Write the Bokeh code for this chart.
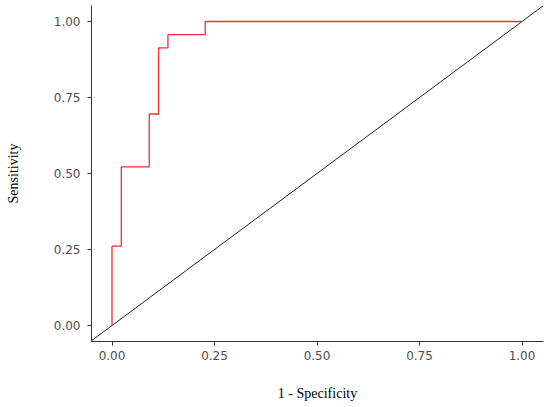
from bokeh.plotting import figure
from bokeh.embed import file_html
from bokeh.resources import INLINE
from bokeh.models import Range1d, FixedTicker

# ROC curve points (1 - specificity, sensitivity)
fpr = [0.0, 0.0, 0.0227, 0.0227, 0.0909, 0.0909, 0.1136, 0.1136, 0.1364, 0.1364, 0.2273, 0.2273, 1.0]
tpr = [0.0, 0.2609, 0.2609, 0.5217, 0.5217, 0.6957, 0.6957, 0.9130, 0.9130, 0.9565, 0.9565, 1.0, 1.0]
diag = [-0.1, 1.2]
ticks = [0.0, 0.25, 0.5, 0.75, 1.0]
tick_labels = {0.0: "0.00", 0.25: "0.25", 0.5: "0.50", 0.75: "0.75", 1.0: "1.00"}

p = figure(width=550, height=407, output_backend="svg", toolbar_location=None,
           x_range=Range1d(-0.050, 1.0524), y_range=Range1d(-0.0526, 1.0526),
           min_border_left=91, min_border_right=7, min_border_top=5, min_border_bottom=66)
p.outline_line_color = None
p.grid.grid_line_color = None
p.background_fill_color = "white"

p.line(diag, diag, line_color="#222222", line_width=1.0)
p.line(fpr, tpr, line_color="#F22F33", line_width=1.3)

for ax in (p.xaxis[0], p.yaxis[0]):
    ax.ticker = FixedTicker(ticks=ticks)
    ax.major_label_overrides = tick_labels
    ax.minor_tick_line_color = None
    ax.major_tick_in = 0
    ax.major_tick_out = 4
    ax.axis_line_color = "#333333"
    ax.major_tick_line_color = "#333333"
    ax.major_label_text_font = "DejaVu Sans"
    ax.major_label_text_font_size = "12px"
    ax.major_label_text_color = "#4D4D4D"
    ax.axis_label_text_font = "Liberation Serif"
    ax.axis_label_text_font_size = "14px"
    ax.axis_label_text_font_style = "normal"
    ax.axis_label_text_color = "black"

p.xaxis.axis_label = "1 - Specificity"
p.yaxis.axis_label = "Sensitivity"
p.xaxis.axis_label_standoff = 23
p.yaxis.axis_label_standoff = 30
p.xaxis.major_label_standoff = 5
p.yaxis.major_label_standoff = 7

open("out.html", "w").write(file_html(p, INLINE))
